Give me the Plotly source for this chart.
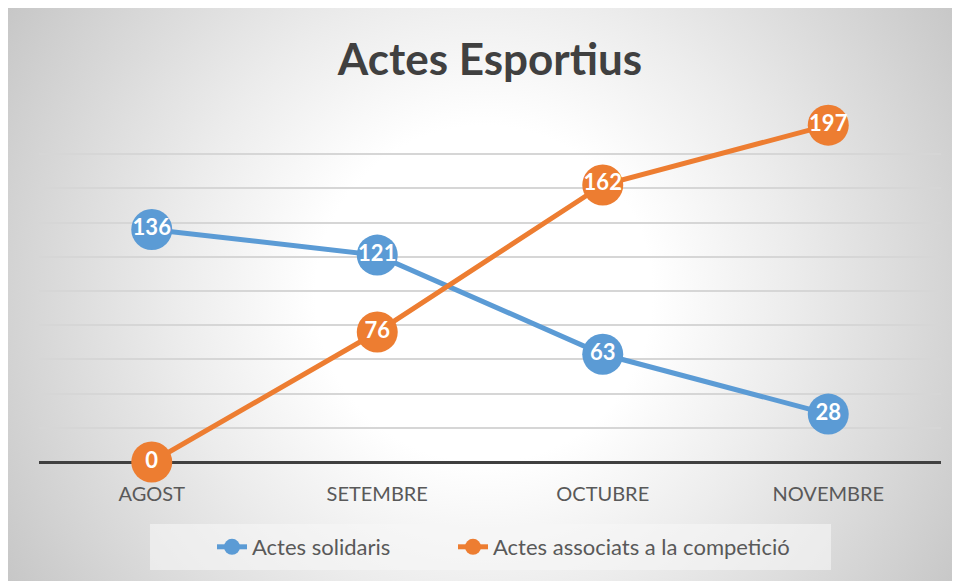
import base64
import plotly.graph_objects as go

# ---- data ----
months = ["AGOST", "SETEMBRE", "OCTUBRE", "NOVEMBRE"]
solidaris = [136, 121, 63, 28]
competicio = [0, 76, 162, 197]
series_names = ["Actes solidaris", "Actes associats a la competició"]
title_text = "Actes Esportius"

# ---- geometry (page is offset by the 8px body margin) ----
OFF = 8
W, H = 952, 573
L, R, T, B = 31, 19, 112, 119
PW, PH = W - L - R, H - T - B


def px_x(sx):
    return (sx - OFF - L) / PW


def px_y(sy):
    return (H - B - (sy - OFF)) / PH


FONT = "Lato"
BLUE = "#5b9bd5"
ORANGE = "#ed7d31"

svg = (
    '<svg xmlns="http://www.w3.org/2000/svg" width="952" height="573" '
    'viewBox="0 0 952 573" preserveAspectRatio="none">'
    '<defs><radialGradient id="g" gradientUnits="userSpaceOnUse" cx="476" cy="286" r="561">'
    '<stop offset="0" stop-color="#ffffff"/>'
    '<stop offset="0.30" stop-color="#ffffff"/>'
    '<stop offset="0.55" stop-color="#ececec"/>'
    '<stop offset="1" stop-color="#c6c6c6"/>'
    '</radialGradient></defs>'
    '<rect x="0" y="0" width="952" height="573" fill="url(#g)"/>'
    '</svg>'
)
svg_uri = "data:image/svg+xml;base64," + base64.b64encode(svg.encode()).decode()

fig = go.Figure()

legends = ["legend", "legend2"]
for name, vals, col, lg in [(series_names[0], solidaris, BLUE, legends[0]),
                            (series_names[1], competicio, ORANGE, legends[1])]:
    fig.add_trace(go.Scatter(
        x=months, y=vals, name=name, legend=lg, showlegend=True,
        mode="lines+markers+text",
        line=dict(color=col, width=5),
        marker=dict(color=col, size=41, line=dict(width=0)),
        text=[str(v) for v in vals],
        textposition="middle center",
        textfont=dict(family=FONT, size=22, color="white", weight="bold"),
        cliponaxis=False,
    ))

legend_common = dict(
    orientation="h", xanchor="left", yanchor="middle",
    bgcolor="rgba(0,0,0,0)", visible=True,
    font=dict(family=FONT, size=22, color="#595959"),
)

fig.update_layout(
    width=W, height=H,
    margin=dict(l=L, r=R, t=T, b=B),
    paper_bgcolor="white",
    plot_bgcolor="rgba(0,0,0,0)",
    hovermode=False,
    showlegend=True,
    title=dict(
        text=title_text, x=0.5, xref="paper", xanchor="center",
        y=1 - (60 - OFF) / H, yref="container", yanchor="middle",
        font=dict(family=FONT, size=44, color="#404040", weight="bold"),
    ),
    xaxis=dict(
        type="category", range=[-0.5, 3.5], showgrid=False, showline=False,
        ticks="", zeroline=False, ticklabelstandoff=18,
        tickfont=dict(family=FONT, size=20, color="#595959"),
    ),
    yaxis=dict(
        range=[0, 200], dtick=20, showgrid=True, gridcolor="#d6d6d6", gridwidth=1.5,
        zeroline=True, zerolinecolor="#404040", zerolinewidth=3,
        showticklabels=False, ticks="", showline=False,
    ),
    legend=dict(legend_common, x=px_x(212), y=px_y(547)),
    legend2=dict(legend_common, x=px_x(453), y=px_y(547)),
    images=[dict(
        source=svg_uri, xref="paper", yref="paper",
        x=px_x(OFF), y=px_y(OFF), sizex=W / PW, sizey=H / PH,
        xanchor="left", yanchor="top", sizing="stretch", layer="below",
    )],
    shapes=[dict(
        type="rect", xref="paper", yref="paper",
        x0=px_x(150), x1=px_x(831), y0=px_y(570), y1=px_y(524),
        fillcolor="rgba(246,246,246,0.6)", line=dict(width=0), layer="below",
    )],
)

fig.write_html("out.html")
